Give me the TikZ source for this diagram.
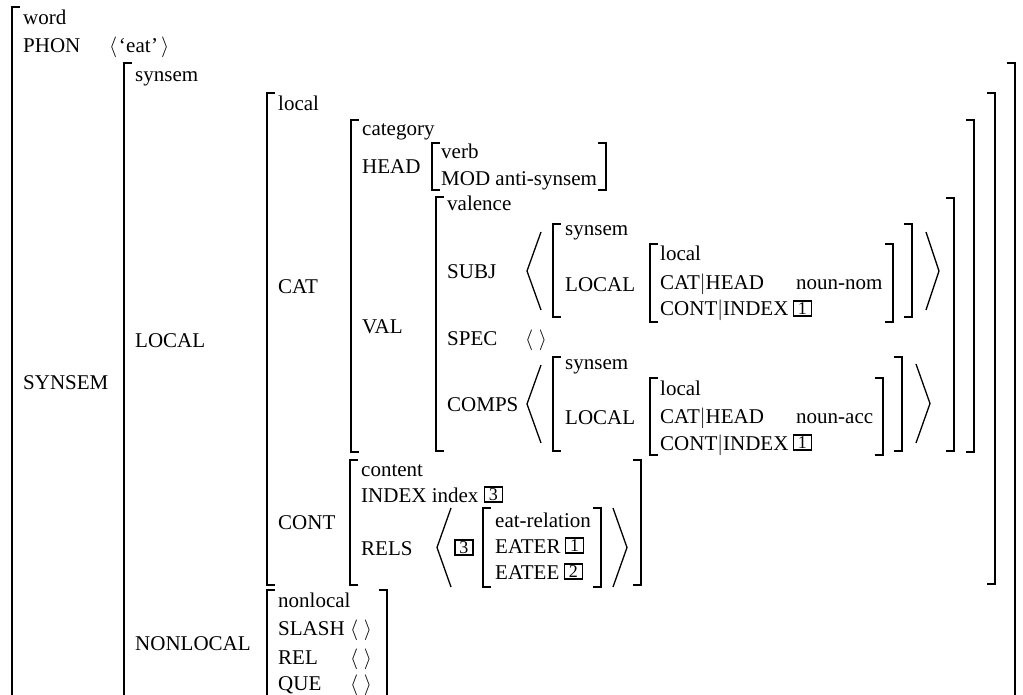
\documentclass[tikz,border=0pt]{standalone}
\usepackage{fontspec}
\setmainfont{Liberation Serif}
\usetikzlibrary{calc}
\tikzset{
  t/.style={anchor=base west, inner sep=0pt, font=\fontsize{21}{25}\selectfont},
  tagbox/.style={draw, line width=1.6pt, minimum width=18pt, minimum height=15pt, inner sep=0pt, anchor=south west, font=\fontsize{18}{18}\selectfont},
  brk/.style={line width=1.6pt, line cap=rect},
  ang/.style={line width=1.3pt},
}
\newcommand\avmL[3]{\draw[brk] (#1+7,#2) -- (#1,#2) -- (#1,#3) -- (#1+7,#3);}
\newcommand\avmR[3]{\draw[brk] (#1-7,#2) -- (#1,#2) -- (#1,#3) -- (#1-7,#3);}
\newcommand\avmLA[4]{\draw[ang] (#2,#3) -- (#1,{(#3+#4)/2}) -- (#2,#4);}
\newcommand\avmRA[4]{\draw[ang] (#1,#3) -- (#2,{(#3+#4)/2}) -- (#1,#4);}
\newcommand\emptylist{$\langle\;\rangle$}
\begin{document}
\begin{tikzpicture}[x=1pt,y=-1pt]
\useasboundingbox (0,0) rectangle (1023,695);
\clip (0,0) rectangle (1023,695);
% ---------- brackets ----------
\avmL{12}{7}{720}
\avmL{124}{63}{720}
\avmR{1015}{63}{720}
\avmL{267}{93}{585}
\avmR{995}{93}{584}
\avmL{351}{120}{452}
\avmR{974}{120}{452}
\avmL{432}{143}{190}
\avmR{606}{143}{190}
\avmL{436}{197}{451}
\avmR{954}{198}{451}
\avmL{553}{224}{317}
\avmR{912}{224}{317}
\avmL{650}{244}{322}
\avmR{893}{244}{322}
\avmL{553}{357}{451}
\avmR{902}{357}{451}
\avmL{650}{378}{455}
\avmR{883}{378}{455}
\avmL{350}{460}{585}
\avmR{641}{460}{585}
\avmL{483}{508}{587}
\avmR{601}{508}{587}
\avmL{267}{590}{720}
\avmR{387}{590}{720}
% ---------- big angles ----------
\avmLA{527}{541}{232}{310}
\avmRA{926}{939}{232}{310}
\avmLA{527}{541}{365}{443}
\avmRA{916}{930}{364}{443}
\avmLA{437}{451}{508}{587}
\avmRA{613}{627}{508}{587}
% ---------- texts ----------
\node[t] (word) at (23,25) {word};
\node[t] (phon) at (23,53) {PHON};
\node[t] (phonv) at (109,53) {$\langle$\hspace{1.5pt}`\hspace{0.5pt}eat\hspace{0.5pt}'\hspace{3pt}$\rangle$};
\node[t] (synsemF) at (23,389) {SYNSEM};
\node[t] (synsemT) at (135,82) {synsem};
\node[t] (localF) at (135,347) {LOCAL};
\node[t] (nonlocalF) at (135,650) {NONLOCAL};
\node[t] (localT) at (278,111) {local};
\node[t] (catF) at (278,294) {CAT};
\node[t] (contF) at (278,529) {CONT};
\node[t] (catT) at (362,136) {category};
\node[t] (headF) at (362,174) {HEAD};
\node[t] (verbT) at (441,159) {verb};
\node[t] (modF) at (441,186) {MOD anti-synsem};
\node[t] (valF) at (362,333) {VAL};
\node[t] (valT) at (447,211) {valence};
\node[t] (subjF) at (447,278) {SUBJ};
\node[t] (specF) at (447,345) {SPEC};
\node[t] (specV) at (525,345) {\emptylist};
\node[t] (compsF) at (447,411) {COMPS};
% SUBJ element
\node[t] (s1T) at (565,236) {synsem};
\node[t] (s1L) at (565,291) {LOCAL};
\node[t] (l1T) at (660,261) {local};
\node[t] (l1C) at (660,289) {CAT$|$HEAD};
\node[t] (l1V) at (796,289) {noun-nom};
\node[t] (l1I) at (660,316) {CONT$|$INDEX};
\node[tagbox] (b1) at ($(l1I.base east)+(4,1)$) {1};
% COMPS element
\node[t] (s2T) at (565,369) {synsem};
\node[t] (s2L) at (565,424) {LOCAL};
\node[t] (l2T) at (660,395) {local};
\node[t] (l2C) at (660,423) {CAT$|$HEAD};
\node[t] (l2V) at (796,423) {noun-acc};
\node[t] (l2I) at (660,450) {CONT$|$INDEX};
\node[tagbox] (b2) at ($(l2I.base east)+(4,1)$) {1};
% content
\node[t] (contT) at (361,476) {content};
\node[t] (indexF) at (361,502) {INDEX index};
\node[tagbox] (b3) at ($(indexF.base east)+(5,1)$) {3};
\node[t] (relsF) at (361,555) {RELS};
\node[tagbox] (b4) at (454,556) {3};
\node[t] (eatT) at (495,527) {eat-relation};
\node[t] (eaterF) at (495,553) {EATER};
\node[tagbox] (b5) at ($(eaterF.base east)+(4,1)$) {1};
\node[t] (eateeF) at (495,579) {EATEE};
\node[tagbox] (b6) at ($(eateeF.base east)+(4,1)$) {2};
% nonlocal
\node[t] (nlT) at (278,607) {nonlocal};
\node[t] (slashF) at (278,635) {SLASH};
\node[t] (slashV) at (350,635) {\emptylist};
\node[t] (relF) at (278,664) {REL};
\node[t] (relV) at (350,664) {\emptylist};
\node[t] (queF) at (278,690) {QUE};
\node[t] (queV) at (350,690) {\emptylist};
\end{tikzpicture}
\end{document}
